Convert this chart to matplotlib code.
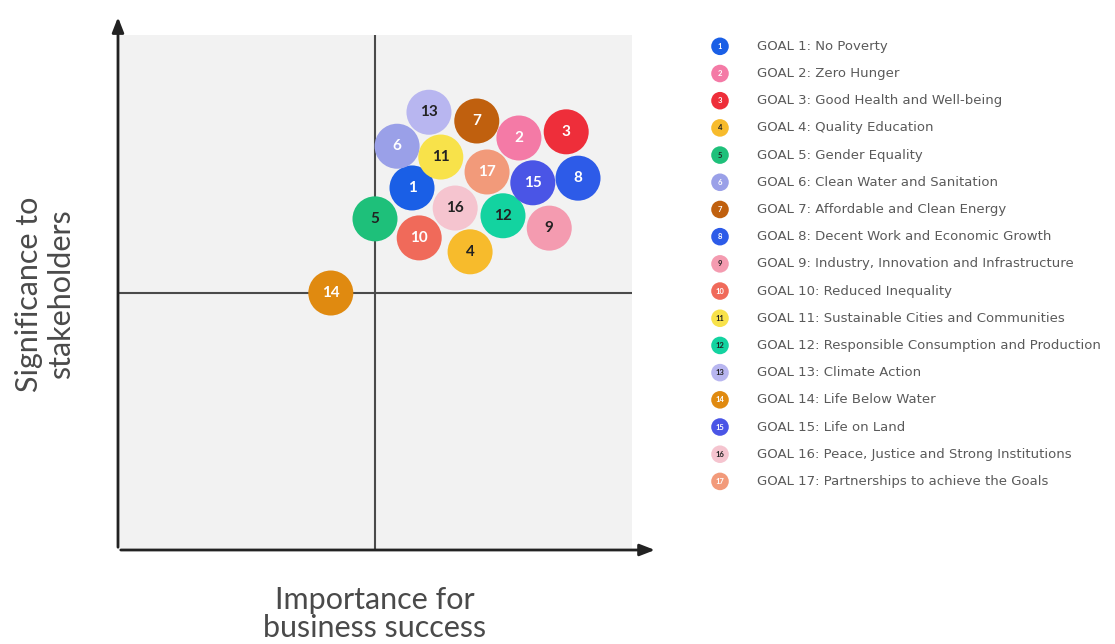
import matplotlib.pyplot as plt

plt.rcParams["font.family"] = ["Lato", "DejaVu Sans"]

# goal numbers, positions (importance, significance), colours
goals = list(range(1, 18))
importance = [5.72, 7.80, 8.72, 6.85, 5.00, 5.43, 6.98, 8.95, 8.39,
              5.86, 6.28, 7.49, 6.05, 4.14, 8.07, 6.56, 7.18]
significance = [7.03, 8.00, 8.12, 5.79, 6.43, 7.84, 8.33, 7.22, 6.25,
                6.06, 7.63, 6.49, 8.50, 4.99, 7.13, 6.64, 7.34]
colors = ["#1a5fe6", "#f47aa6", "#ee2e3a", "#f7bb2c", "#1ec07a", "#9aa0e8",
          "#c0600e", "#2d5be8", "#f49bb0", "#f06a5a", "#f8e24a", "#13d3a0",
          "#b8b6f0", "#e08a10", "#4a55e6", "#f5c4cf", "#f29a7a"]
text_colors = ["white", "white", "white", "#222222", "#222222", "white",
               "white", "white", "#222222", "white", "#222222", "#222222",
               "#222222", "white", "white", "#222222", "white"]
names = ["No Poverty", "Zero Hunger", "Good Health and Well-being",
         "Quality Education", "Gender Equality", "Clean Water and Sanitation",
         "Affordable and Clean Energy", "Decent Work and Economic Growth",
         "Industry, Innovation and Infrastructure", "Reduced Inequality",
         "Sustainable Cities and Communities",
         "Responsible Consumption and Production", "Climate Action",
         "Life Below Water", "Life on Land",
         "Peace, Justice and Strong Institutions",
         "Partnerships to achieve the Goals"]

W, H = 1115, 644
fig = plt.figure(figsize=(W / 100, H / 100), dpi=100)

# main quadrant panel
ax = fig.add_axes([118 / W, (H - 550) / H, 514 / W, 515 / H])
ax.set_facecolor("#f2f2f2")
ax.set_xlim(0, 10)
ax.set_ylim(0, 10)
for s in ax.spines.values():
    s.set_visible(False)
ax.set_xticks([])
ax.set_yticks([])

ax.axvline(5, color="#4a4a4a", lw=1.5, zorder=1)
ax.axhline(5, color="#4a4a4a", lw=1.5, zorder=1)

# axis arrows
arrow = dict(arrowstyle="-|>,head_length=0.9,head_width=0.35", color="#222222", lw=2)
ax.annotate("", xy=(0, 1.04), xytext=(0, 0), xycoords="axes fraction",
            arrowprops=arrow, annotation_clip=False)
ax.annotate("", xy=(1.05, 0), xytext=(0, 0), xycoords="axes fraction",
            arrowprops=arrow, annotation_clip=False)

ax.scatter(importance, significance, s=1050, c=colors, zorder=3,
           linewidths=0, clip_on=False)
for g, x, y, tc in zip(goals, importance, significance, text_colors):
    ax.text(x, y, str(g), ha="center", va="center", fontsize=11,
            fontweight="bold", color=tc, zorder=4)

fig.text(45 / W, 1 - 294 / H, "Significance to\nstakeholders", rotation=90,
         ha="center", va="center", fontsize=22, color="#4a4a4a",
         linespacing=1.15)
fig.text(375 / W, 1 - 586 / H, "Importance for\nbusiness success",
         ha="center", va="top", fontsize=22, color="#4a4a4a",
         linespacing=1.0)

# legend panel
lax = fig.add_axes([690 / W, (H - 495) / H, 425 / W, 465 / H])
lax.set_xlim(0, 425)
lax.set_ylim(16.5, -0.6)
lax.axis("off")
rows = list(range(len(goals)))
lax.scatter([30] * len(rows), rows, s=160, c=colors, linewidths=0)
for r, g, name, tc in zip(rows, goals, names, text_colors):
    lax.text(30, r, str(g), ha="center", va="center", fontsize=5.5,
             fontweight="bold", color=tc)
    lax.text(67, r, f"GOAL {g}: {name}", ha="left", va="center",
             fontsize=9.5, color="#5a5a5a", family="DejaVu Sans")

fig.savefig("out.png", dpi=100, facecolor="white")
